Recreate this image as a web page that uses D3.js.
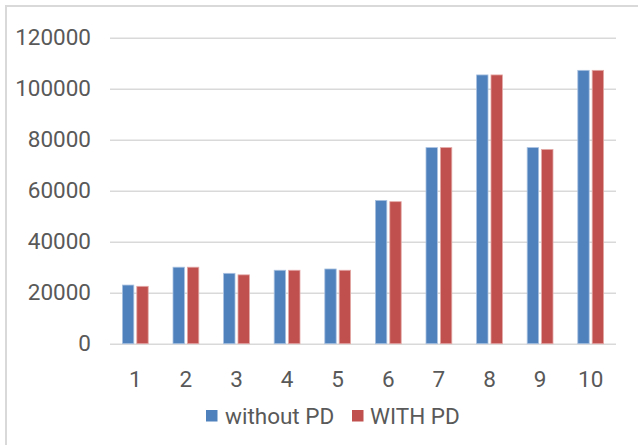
<!DOCTYPE html>
<html>
<head>
<meta charset="utf-8">
<script src="https://cdn.jsdelivr.net/npm/d3@7"></script>
<style>
  html, body { margin: 0; padding: 0; background: #fff; }
  svg { display: block; }
  text { font-family: Roboto, "Liberation Sans", sans-serif; fill: #595959; }
</style>
</head>
<body>
<svg id="chart" width="638" height="445"></svg>
<script>
const categories = ["1", "2", "3", "4", "5", "6", "7", "8", "9", "10"];
const seriesNames = ["without PD", "WITH PD"];
const withoutPD = [23000, 30000, 27600, 28800, 29300, 56200, 76900, 105400, 76900, 107200];
const withPD    = [22500, 30000, 27000, 28800, 28800, 55700, 76900, 105400, 76200, 107200];
const yTicks = [0, 20000, 40000, 60000, 80000, 100000, 120000];
const colors = ["#4F81BD", "#C0504D"];

const svg = d3.select("#chart");
const W = 638, H = 445;
const plotLeft = 110, plotRight = 616, plotTop = 37.7, plotBottom = 343.7;

// frame (top and left edges visible)
svg.append("line").attr("x1", 6).attr("x2", W).attr("y1", 6).attr("y2", 6)
  .attr("stroke", "#d9d9d9").attr("stroke-width", 2);
svg.append("line").attr("x1", 6).attr("x2", 6).attr("y1", 5).attr("y2", H)
  .attr("stroke", "#d9d9d9").attr("stroke-width", 2);

const x = d3.scaleBand().domain(categories).range([plotLeft, plotRight]).padding(0);
const y = d3.scaleLinear().domain([0, 120000]).range([plotBottom, plotTop]);

const barW = 11.4, step = 14.4;
const x1 = d3.scaleOrdinal().domain(seriesNames).range([-step / 2, step / 2]);

// gridlines
const yAxis = d3.axisLeft(y).tickValues(yTicks).tickSize(-(plotRight - plotLeft)).tickPadding(19).tickFormat(d3.format("d"));
const gy = svg.append("g").attr("transform", `translate(${plotLeft},0)`).call(yAxis);
gy.select(".domain").remove();
gy.selectAll(".tick line").attr("stroke", "#d9d9d9").attr("stroke-width", 1.4);
gy.selectAll(".tick text").attr("font-size", "22.5px").attr("fill", "#595959");

// bars
const data = categories.map((c, i) => ({ c, vals: [withoutPD[i], withPD[i]] }));
const groups = svg.append("g").selectAll("g").data(data).join("g")
  .attr("transform", d => `translate(${x(d.c) + x.bandwidth() / 2},0)`);
groups.selectAll("rect").data(d => d.vals.map((v, k) => ({ v, k })))
  .join("rect")
  .attr("x", d => x1(seriesNames[d.k]) - barW / 2)
  .attr("width", barW)
  .attr("y", d => y(d.v))
  .attr("height", d => y(0) - y(d.v))
  .attr("fill", d => colors[d.k])
  .attr("stroke", d => d.k === 0 ? "#a9c1e0" : "#e3a9a7")
  .attr("stroke-width", 0.8);

// x axis labels
const xAxis = d3.axisBottom(x).tickSize(0).tickPadding(27);
const gx = svg.append("g").attr("transform", `translate(0,${plotBottom})`).call(xAxis);
gx.select(".domain").remove();
gx.selectAll(".tick text").attr("font-size", "22.5px").attr("fill", "#595959");

// legend
const legend = svg.append("g");
const legItems = [
  { name: seriesNames[0], sx: 206, tx: 225 },
  { name: seriesNames[1], sx: 352, tx: 370 }
];
legItems.forEach((it, i) => {
  legend.append("rect").attr("x", it.sx).attr("y", 410).attr("width", 11.5).attr("height", 11.5)
    .attr("fill", colors[i]);
  legend.append("text").attr("x", it.tx).attr("y", 424).attr("font-size", "22.5px")
    .text(it.name);
});
</script>
</body>
</html>
